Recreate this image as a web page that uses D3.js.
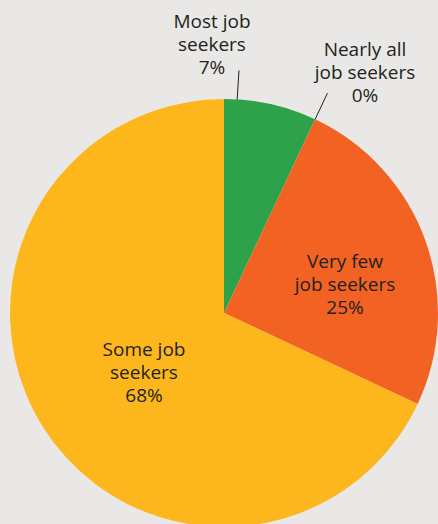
<!DOCTYPE html>
<html>
<head>
<meta charset="utf-8">
<script src="https://cdn.jsdelivr.net/npm/d3@7"></script>
<style>
  html, body { margin: 0; padding: 0; background: #e9e8e6; }
  svg { display: block; }
  text { font-family: "Open Sans", "Noto Sans", sans-serif; fill: #231f20; }
</style>
</head>
<body>
<svg id="chart" width="438" height="524"></svg>
<script>
// Share of job seekers, clockwise from 12 o'clock
const categories = ["Most job seekers", "Nearly all job seekers", "Very few job seekers", "Some job seekers"];
const values = [7, 0, 25, 68];
const colors = ["#2ea24a", "#f26a20", "#f26323", "#fdb71d"];
// Label text lines per slice
const labelLines = [
  ["Most job", "seekers", "7%"],
  ["Nearly all", "job seekers", "0%"],
  ["Very few", "job seekers", "25%"],
  ["Some job", "seekers", "68%"]
];

const width = 438, height = 524;
const cx = 224, cy = 313, R = 214;
const svg = d3.select("#chart");
const g = svg.append("g").attr("transform", `translate(${cx},${cy})`);

const data = categories.map((c, i) => ({ name: c, value: values[i], color: colors[i], lines: labelLines[i] }));
const pie = d3.pie().sort(null).value(d => d.value);
const arcs = pie(data);
const arc = d3.arc().innerRadius(0).outerRadius(R);

g.selectAll("path.slice")
  .data(arcs)
  .join("path")
  .attr("class", "slice")
  .attr("d", arc)
  .attr("fill", d => d.data.color);

// point on a circle of radius r at pie angle a (0 = up, clockwise)
const polar = (r, a) => [r * Math.sin(a), -r * Math.cos(a)];

// Short radial leader lines for the two labels outside the pie
const outside = [
  { i: 0, frac: 0.14 },
  { i: 1, frac: 0.5 }
];
outside.forEach(o => {
  const d = arcs[o.i];
  const a = d.startAngle + o.frac * (d.endAngle - d.startAngle);
  const p0 = polar(R, a), p1 = polar(R + 29, a);
  g.append("line")
    .attr("x1", p0[0]).attr("y1", p0[1])
    .attr("x2", p1[0]).attr("y2", p1[1])
    .attr("stroke", "#231f20").attr("stroke-width", 1);
});

const lineH = 22.8;
const labelPos = [
  { x: -12, y: -285 },
  { x: 141, y: -257 },
  { x: 121, y: -45 },
  { x: -80, y: 43 }
];
arcs.forEach((d, i) => {
  const t = g.append("text")
    .attr("text-anchor", "middle")
    .attr("font-size", 19)
    .attr("x", labelPos[i].x)
    .attr("y", labelPos[i].y);
  d.data.lines.forEach((ln, k) => {
    t.append("tspan")
      .attr("x", labelPos[i].x)
      .attr("dy", k === 0 ? 0 : lineH)
      .text(ln);
  });
});
</script>
</body>
</html>
